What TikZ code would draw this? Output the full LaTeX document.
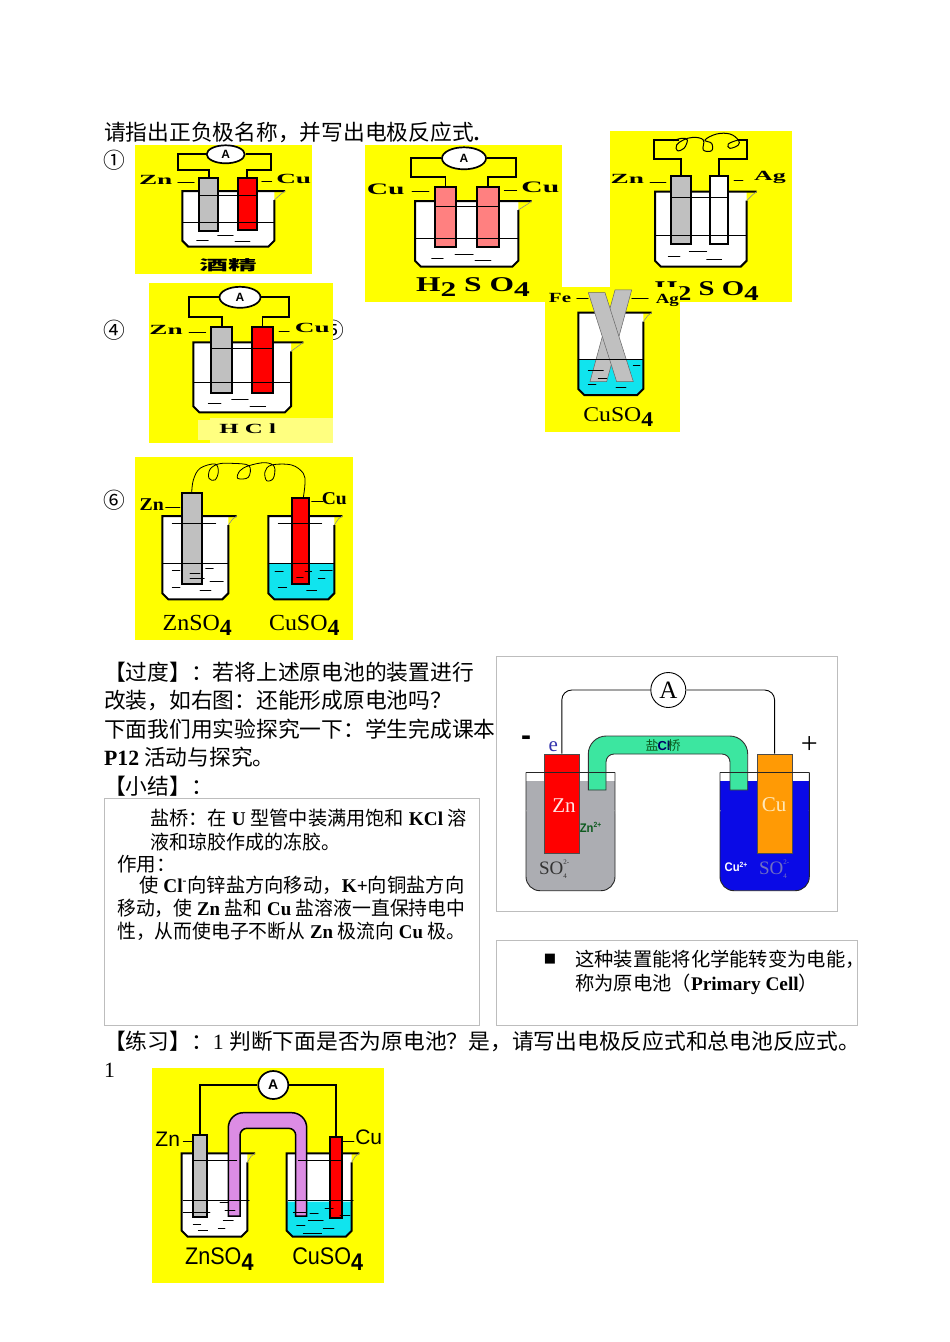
\documentclass[tikz,border=0pt]{standalone}
\usepackage{fontspec}
\setmainfont{Liberation Serif}
\setsansfont{Liberation Sans}
\newfontfamily\cjk{Noto Sans CJK SC}
\newfontfamily\symf{DejaVu Sans}
\usetikzlibrary{shapes.geometric}
\definecolor{yel}{HTML}{FFFF00}
\definecolor{pale}{HTML}{FFFF80}
\definecolor{cyn}{HTML}{10E4EE}
\definecolor{pinkel}{HTML}{FF8080}
\definecolor{grayel}{HTML}{C0C0C0}
\definecolor{frameg}{HTML}{BDBDBD}
\definecolor{bridgeg}{HTML}{3CE6A0}
\definecolor{bridgep}{HTML}{DC8CE4}
\definecolor{liqg}{HTML}{ACADB2}
\definecolor{liqb}{HTML}{0A0AE6}
\definecolor{orng}{HTML}{FF9A05}
\definecolor{dgreen}{HTML}{0C5A1E}
\definecolor{cream}{HTML}{FFE8B8}
\newcommand{\lat}[1]{{\rmfamily\bfseries #1}}
\newcommand{\fsub}[1]{\raisebox{-.22em}{\bfseries #1}}
\newcommand{\sofour}{SO\rlap{\raisebox{.55em}{\fontsize{7}{7}\selectfont 2-}}\raisebox{-.2em}{\fontsize{7}{7}\selectfont 4}}
\tikzset{
  x=1pt,y=-1pt,
  big/.style={font=\cjk\fontsize{21.75}{24}\selectfont,anchor=base west,inner sep=0pt},
  small/.style={font=\cjk\fontsize{19.5}{24}\selectfont,anchor=base west,inner sep=0pt,transform shape},
  numc/.style={font=\cjk\fontsize{21.75}{24}\selectfont,inner sep=0pt},
  wire/.style={line width=1.7pt,line join=miter},
  thinw/.style={line width=.7pt,line cap=round},
  lab/.style={font=\rmfamily\bfseries\fontsize{14}{14}\selectfont,inner sep=0pt,transform shape},
  labx/.style={lab,xscale=1.95},
  labb/.style={font=\rmfamily\bfseries\fontsize{21}{21}\selectfont,inner sep=0pt,transform shape},
  labs/.style={font=\rmfamily\fontsize{21}{21}\selectfont,inner sep=0pt,transform shape},
  labt/.style={font=\sffamily\fontsize{21}{21}\selectfont,inner sep=0pt,transform shape},
  amm/.style={ellipse,draw,line width=1.7pt,fill=white,inner sep=0pt,font=\sffamily\bfseries\fontsize{12}{12}\selectfont},
  elecbox/.style={draw,line width=2pt,inner sep=0pt},
  zoomone/.style={shift={(95,115)},x=.3333pt,y=-.3333pt},
  zoomtwo/.style={shift={(530,120)},x=.3333pt,y=-.3333pt},
  zoomfive/.style={shift={(130,1060)},x=.3333pt,y=-.3333pt},
  zoomsix/.style={shift={(125,450)},x=.3333pt,y=-.3333pt},
  framebox/.style={draw=frameg,line width=.8pt,fill=white}
}
% L R T B spout liquid-level liquid-colour
\newcommand{\beaker}[7]{%
  \fill[white] (#1,#3) -- (#1,#4-6) -- (#1+6,#4) -- (#2-6,#4) -- (#2,#4-6) -- (#2,#3) -- cycle;
  \fill[#7] (#1,#6) -- (#1,#4-6) -- (#1+6,#4) -- (#2-6,#4) -- (#2,#4-6) -- (#2,#6) -- cycle;
  \draw[line width=2pt,line join=miter] (#5,#3) -- (#1,#3) -- (#1,#4-6) -- (#1+6,#4) -- (#2-6,#4) -- (#2,#4-6) -- (#2,#3+9);
  \draw[line width=.6pt,black!45] (#5,#3) -- (#5-4,#3+3) -- (#2,#3+9);
}
% name xl xr yt yb colour
\newcommand{\elec}[6]{%
  \pgfmathsetmacro{\ew}{#3-#2}\pgfmathsetmacro{\eh}{#5-#4}%
  \pgfmathsetmacro{\ecx}{(#2+#3)/2}\pgfmathsetmacro{\ecy}{(#4+#5)/2}%
  \node[elecbox,fill=#6,minimum width=\ew pt,minimum height=\eh pt] (#1) at (\ecx,\ecy) {};
}
\newcommand{\hl}[3]{\draw[thinw] (#1,#3) -- (#2,#3);}
\begin{document}
\begin{tikzpicture}
\useasboundingbox (0,0) rectangle (950,1342);
\fill[white] (0,0) rectangle (950,1342);

% text above pictures
\node[big] (t1) at (104,140) {请指出正负极名称，并写出电极反应式\lat{.}};
\node[numc] (n1) at (114,160) {①};
\node[numc] (n4) at (114,330) {④};
\node[numc] (n5) at (333,330) {⑤};
\node[numc] (n6) at (114,500) {⑥};

% ---------- picture 1
\fill[yel] (135,145) rectangle (312,274);
\beaker{182.3}{274.3}{191}{246.7}{285}{222.7}{white}
\elec{e1a}{199}{218.3}{178.3}{230.7}{grayel}
\elec{e1b}{237.7}{256.7}{178.3}{230}{red}
\node[amm,minimum width=38pt,minimum height=18pt] (a1) at (225.7,154.3) {A};
\draw[wire] (a1.west) -| (178,170) -| (e1a.north);
\draw[wire] (a1.east) -| (271,170) -| (e1b.north);
\hl{182.3}{274.3}{222.7}
\hl{199}{256.7}{195}
\hl{177.7}{194.3}{182}
\hl{261.7}{271.7}{181}
\node[labx] (l1a) at (155.7,180) {Zn};
\node[labx] (l1b) at (293.7,179) {Cu};
\node[font=\cjk\bfseries\fontsize{14}{14}\selectfont,inner sep=0pt,xscale=2.05,transform shape] (l1c) at (228,265) {酒精};
\begin{scope}[zoomone]
\draw[thinw] (305,375)--(340,375) (368,362)--(415,362) (420,380)--(465,380);
\end{scope}

% ---------- picture 2
\fill[yel] (365,145) rectangle (562,302);
\beaker{415}{518.3}{201}{266.7}{531.7}{238.3}{white}
\elec{e2a}{435}{456}{186.7}{247.3}{pinkel}
\elec{e2b}{477}{499}{186.7}{247.3}{pinkel}
\node[amm,minimum width=44pt,minimum height=22pt] (a2) at (464,158.3) {A};
\draw[wire] (a2.west) -| (411,177.3) -| (e2a.north);
\draw[wire] (a2.east) -| (516,177.3) -| (e2b.north);
\hl{415}{518.3}{238.3}
\draw[line width=1pt] (435,206.7) -- (499,206.7);
\hl{412}{429}{191}
\hl{504.3}{516.7}{190}
\node[lab,font=\rmfamily\bfseries\fontsize{16}{16}\selectfont,xscale=1.85] (l2a) at (385.7,189) {Cu};
\node[lab,font=\rmfamily\bfseries\fontsize{16}{16}\selectfont,xscale=1.85] (l2b) at (540.3,187) {Cu};
\node[labb,xscale=1.5] (l2c) at (473,287) {H\fsub{2} S O\fsub{4}};
\begin{scope}[zoomone]
\draw[thinw] (1010,430)--(1045,430) (1080,418)--(1135,418) (1140,435)--(1188,435);
\end{scope}

% ---------- picture 3
\fill[yel] (610,131) rectangle (792,302);
\beaker{655}{746.7}{191.7}{266.7}{756.7}{235}{white}
\elec{e3a}{670.7}{690.7}{176}{244.3}{grayel}
\elec{e3b}{710}{728.3}{176}{244.3}{white}
\coordinate (c3a) at (679,140);
\coordinate (c3b) at (738,140);
\draw[wire] (e3a.north) |- (654,159.3) |- (c3a);
\draw[wire] (e3b.north) |- (746.7,159.3) |- (c3b);
\begin{scope}[zoomtwo]
\draw[line width=1pt] plot[smooth,tension=.65] coordinates {(430,62)(455,55)(472,60)(462,85)(442,92)(440,75)(460,60)(490,52)(520,60)(520,90)(545,92)(545,70)(525,60)(560,42)(600,42)(625,60)(625,75)(600,85)(595,72)(625,60)(645,60)};
\draw[thinw] (415,408)--(450,408) (478,395)--(530,395) (530,418)--(575,418);
\end{scope}
\hl{655}{746.7}{235}
\hl{670.7}{728.3}{197}
\hl{650}{666}{182}
\hl{734}{743}{180}
\node[labx] (l3a) at (627.3,179.3) {Zn};
\node[lab,xscale=1.85] (l3b) at (770,177.3) {Ag};
\node[labb,xscale=1.37] (l3c) at (706.7,291) {H\fsub{2} S O\fsub{4}};

% ---------- picture 5
\fill[yel] (545,287) rectangle (680,432);
\beaker{578.3}{643.3}{312.7}{395}{651.7}{359.3}{cyn}
\begin{scope}[zoomtwo]
\filldraw[fill=grayel,draw=black!60,line width=.5pt] (255,510) -- (305,510) -- (230,785) -- (180,785) -- cycle;
\filldraw[fill=grayel,draw=black!60,line width=.5pt] (175,518) -- (225,518) -- (310,785) -- (260,785) -- cycle;
\draw[thinw] (175,750)--(220,750) (310,735)--(330,735) (175,792)--(198,792) (258,802)--(288,802) (205,775)--(230,775);
\end{scope}
\hl{578.3}{643.3}{359.3}
\hl{576.7}{588.3}{298}
\hl{631.7}{648.3}{298}
\node[lab,xscale=1.5] (l5a) at (560,298.3) {Fe};
\node[lab,xscale=1.35] (l5b) at (667.3,300) {Ag};
\node[labs,xscale=1.13] (l5c) at (618.3,417.3) {CuSO\fsub{4}};

% ---------- picture 4
\fill[yel] (149,283) rectangle (333,443);
\fill[pale] (198,420) rectangle (210,440);
\fill[pale] (210,418) rectangle (333,443);
\beaker{193.3}{291}{342.3}{412.3}{303.3}{382.3}{white}
\elec{e4a}{211}{232.3}{326.7}{392.7}{grayel}
\elec{e4b}{251.7}{273.3}{326.7}{392.7}{red}
\node[amm,minimum width=41pt,minimum height=21pt] (a4) at (240,297.3) {A};
\draw[wire] (a4.west) -| (189.3,317.3) -| (e4a.north);
\draw[wire] (a4.east) -| (289,317.3) -| (e4b.north);
\hl{193.3}{291}{382.3}
\draw[line width=1pt] (211,348.3) -- (273.3,348.3);
\hl{189}{205.7}{332.3}
\hl{279}{289.3}{331}
\node[labx] (l4a) at (166,330) {Zn};
\node[labx] (l4b) at (312.3,328.3) {Cu};
\node[lab,xscale=1.78] (l4c) at (247.7,428.3) {H C l};
\begin{scope}[zoomone]
\draw[thinw] (340,865)--(378,865) (410,852)--(460,852) (465,873)--(512,873);
\end{scope}

% ---------- picture 6
\fill[yel] (135,456.7) rectangle (353.3,640);
\beaker{162.3}{228.3}{516}{599.3}{236.7}{563.3}{white}
\beaker{268.3}{334.3}{516}{599.3}{342.3}{563.3}{cyn}
\elec{e6a}{182.3}{201.7}{493.3}{584.3}{grayel}
\elec{e6b}{291.7}{309}{497.7}{584.3}{red}
\begin{scope}[zoomsix]
\draw[line width=.8pt] plot[smooth,tension=.6] coordinates {(200,130)(205,90)(225,55)(270,42)(280,65)(270,90)(252,85)(255,58)(280,42)(320,40)(372,47)(370,82)(338,85)(345,62)(372,47)(420,38)(448,50)(445,85)(425,92)(420,65)(440,45)(500,45)(535,70)(540,100)(535,143)};
\draw[thinw] (142,360)--(165,360) (242,355)--(265,355) (195,370)--(225,370) (195,385)--(238,385) (255,393)--(295,393) (142,413)--(165,413) (225,422)--(258,422);
\draw[thinw] (450,365)--(475,365) (540,365)--(560,365) (585,360)--(622,360) (580,385)--(600,385) (460,413)--(485,413) (545,422)--(575,422) (515,382)--(535,382);
\draw[thinw] (122,172)--(165,172) (560,155)--(595,155);
\end{scope}
\hl{162.3}{228.3}{563.3}
\hl{268.3}{334.3}{563.3}
\hl{172.3}{215.7}{523.3}
\hl{278.3}{321.7}{523.3}
\node[lab,font=\rmfamily\bfseries\fontsize{18}{18}\selectfont,xscale=1.1] (l6a) at (151.7,505) {Zn};
\node[lab,font=\rmfamily\bfseries\fontsize{18}{18}\selectfont,xscale=1.09] (l6b) at (334.3,498.3) {Cu};
\node[labs,font=\rmfamily\fontsize{23}{23}\selectfont,xscale=1.04] (l6c) at (197.3,625) {ZnSO\fsub{4}};
\node[labs,font=\rmfamily\fontsize{23}{23}\selectfont,xscale=1.04] (l6d) at (304.3,625) {CuSO\fsub{4}};

% ---------- transition text
\node[big] (t2) at (104,680) {【过度】：若将上述原电池的装置进行};
\node[big] (t3) at (104,708) {改装，如右图：还能形成原电池吗？};
\node[big] (t4) at (104,737) {下面我们用实验探究一下：学生完成课本};
\node[big] (t5) at (104,765) {\lat{P12} 活动与探究。};
\node[big] (t6) at (104,794) {【小结】：};

% ---------- salt bridge diagram
\filldraw[framebox] (496.7,656.7) rectangle (837.3,911.7);
\fill[liqg,rounded corners=14pt] (526,800) -- (526,890.7) -- (615,890.7) -- (615,800) -- cycle;
\fill[liqg] (526,780.7) rectangle (615,810);
\fill[liqb,rounded corners=14pt] (720,800) -- (720,890.7) -- (809.3,890.7) -- (809.3,800) -- cycle;
\fill[liqb] (720,780.7) rectangle (809.3,810);
\filldraw[fill=bridgeg,draw=black!80,line width=.9pt] (588.3,790) [rounded corners=18pt] -- (588.3,736) -- (747.7,736) [rounded corners=0pt] -- (747.7,790) -- (730,790) [rounded corners=8pt] -- (730,754) -- (606,754) [rounded corners=0pt] -- (606,790) -- cycle;
\node[draw=black!70,line width=.9pt,fill=red,minimum width=35pt,minimum height=99.3pt,inner sep=0pt] (zn) at (561.8,803.7) {};
\node[draw=black!70,line width=.9pt,fill=orng,minimum width=34.7pt,minimum height=99.3pt,inner sep=0pt] (cu) at (774.6,803.7) {};
\node[circle,draw=black,line width=.9pt,fill=white,minimum size=35pt,inner sep=0pt,font=\rmfamily\fontsize{25}{25}\selectfont] (am) at (668.3,690) {A};
\draw[line width=.9pt,rounded corners=10pt] (am.west) -| (zn.north);
\draw[line width=.9pt,rounded corners=10pt] (am.east) -| (cu.north);
\draw[line width=.9pt,black!85,rounded corners=14pt] (526,772.3) -- (526,890.7) -- (615,890.7) -- (615,772.3);
\draw[line width=.9pt,black!85] (526,772.3) -- (615,772.3);
\draw[line width=.9pt,black!85,rounded corners=14pt] (720,772.3) -- (720,890.7) -- (809.3,890.7) -- (809.3,772.3);
\draw[line width=.9pt,black!85] (720,772.3) -- (809.3,772.3);
\node[inner sep=0pt,font=\sffamily\bfseries\fontsize{30}{30}\selectfont] (mn) at (526,741) {-};
\node[inner sep=0pt,text=blue!60!black!80!white,font=\rmfamily\fontsize{21}{21}\selectfont] (el) at (553.3,747) {e};
\node[inner sep=0pt,font=\rmfamily\fontsize{30}{30}\selectfont] (pl) at (809.3,745) {+};
\node[inner sep=0pt,font=\cjk\fontsize{13}{13}\selectfont,text=dgreen] (sq) at (663,746) {盐\kern-1pt\textcolor{blue!40!black}{\sffamily\bfseries Cl}\kern-3pt 桥};
\node[inner sep=0pt,text=white!90!red,font=\rmfamily\fontsize{21}{21}\selectfont] (zt) at (564,806) {Zn};
\node[inner sep=0pt,text=cream,font=\rmfamily\fontsize{21}{21}\selectfont] (ct) at (774,805) {Cu};
\node[inner sep=0pt,text=dgreen,font=\sffamily\bfseries\fontsize{12.5}{12.5}\selectfont,xscale=.9,transform shape] (zi) at (590.5,827.5) {Zn\raisebox{.35em}{\fontsize{7.5}{7.5}\selectfont 2+}};
\node[inner sep=0pt,text=black!80,font=\rmfamily\fontsize{19}{19}\selectfont] (so1) at (553,869) {\sofour};
\node[inner sep=0pt,text=white,font=\sffamily\bfseries\fontsize{12.5}{12.5}\selectfont,xscale=.9,transform shape] (ci) at (736,867) {Cu\raisebox{.35em}{\fontsize{7.5}{7.5}\selectfont 2+}};
\node[inner sep=0pt,text=blue!40!gray!80!white,font=\rmfamily\fontsize{19}{19}\selectfont] (so2) at (773,869) {\sofour};

% ---------- boxes
\filldraw[framebox] (104,798.3) rectangle (479.3,1025);
\node[small,xscale=.985] (b1) at (150,825.5) {盐桥：在\lat{\ U\ }型管中装满用饱和\lat{\ KCl\ }溶};
\node[small,xscale=.975] (b2) at (150,849) {液和琼胶作成的冻胶。};
\node[small] (b3) at (117,871) {作用：};
\node[small,xscale=.99] (b4) at (139,892) {使\lat{\ Cl\rlap{\raisebox{.4em}{\fontsize{12}{12}\selectfont -}}\ }向锌盐方向移动，\lat{K+}向铜盐方向};
\node[small,xscale=.965] (b5) at (117,915.5) {移动，使\lat{\ Zn\ }盐和\lat{\ Cu\ }盐溶液一直保持电中};
\node[small,xscale=.965] (b6) at (117,938.5) {性，从而使电子不断从\lat{\ Zn\ }极流向\lat{\ Cu\ }极。};
\filldraw[framebox] (496.7,940) rectangle (857,1025);
\node[font=\symf\fontsize{13}{13}\selectfont,inner sep=0pt] (sq2) at (550,959) {■};
\node[small,font=\cjk\fontsize{19.3}{24}\selectfont] (b7) at (575,966) {这种装置能将化学能转变为电能，};
\node[small,font=\cjk\fontsize{19.3}{24}\selectfont] (b8) at (575,990) {称为原电池（\lat{Primary Cell}）};

% ---------- exercise
\node[big] (t7) at (104,1049) {【练习】：{\rmfamily 1\ }判断下面是否为原电池？是，请写出电极反应式和总电池反应式。};
\node[big,font=\rmfamily\fontsize{21.75}{24}\selectfont] (t8) at (104,1077) {1};

% ---------- picture 7
\fill[yel] (151.7,1068.3) rectangle (384.3,1282.7);
\beaker{181.7}{247.3}{1153.3}{1236.7}{255}{1201.7}{white}
\beaker{286.7}{351.7}{1153.3}{1236.7}{359.3}{1201.7}{cyn}
\filldraw[fill=bridgep,draw=black,line width=1.5pt] (228.3,1216) [rounded corners=15pt] -- (228.3,1112.7) -- (306.7,1112.7) [rounded corners=0pt] -- (306.7,1216) -- (295.7,1216) [rounded corners=7pt] -- (295.7,1128.3) -- (240,1128.3) [rounded corners=0pt] -- (240,1216) -- cycle;
\elec{e7a}{193.3}{206.7}{1135}{1217.3}{grayel}
\elec{e7b}{330}{342.3}{1137.3}{1218.3}{red}
\node[amm,minimum width=30pt,minimum height=28pt,font=\sffamily\bfseries\fontsize{14}{14}\selectfont] (a7) at (273.3,1085) {A};
\draw[wire] (a7.west) -| (e7a.north);
\draw[wire] (a7.east) -| (e7b.north);
\begin{scope}[zoomfive]
\draw[thinw] (160,420)--(358,420) (475,420)--(670,420) (160,457)--(240,457) (190,300)--(320,300) (505,300)--(635,300);
\draw[thinw] (270,428)--(295,428) (285,450)--(315,450) (190,492)--(212,492) (280,480)--(310,480) (265,505)--(285,505) (490,457)--(530,457) (585,445)--(610,445) (630,465)--(660,465) (540,460)--(565,460) (500,495)--(525,495) (535,480)--(580,480) (580,505)--(612,505) (520,520)--(575,520);
\draw[line width=1.6pt] (203,512)--(233,512);
\draw[thinw] (160,243)--(190,243) (637,245)--(672,245);
\end{scope}
\node[labt] (l7a) at (167.7,1139) {Zn};
\node[labt] (l7b) at (368.7,1137.3) {Cu};
\node[labt,font=\sffamily\fontsize{24}{24}\selectfont,xscale=.9] (l7c) at (219.3,1259) {ZnSO\fsub{4}};
\node[labt,font=\sffamily\fontsize{24}{24}\selectfont,xscale=.9] (l7d) at (327.7,1259) {CuSO\fsub{4}};
\end{tikzpicture}
\end{document}
